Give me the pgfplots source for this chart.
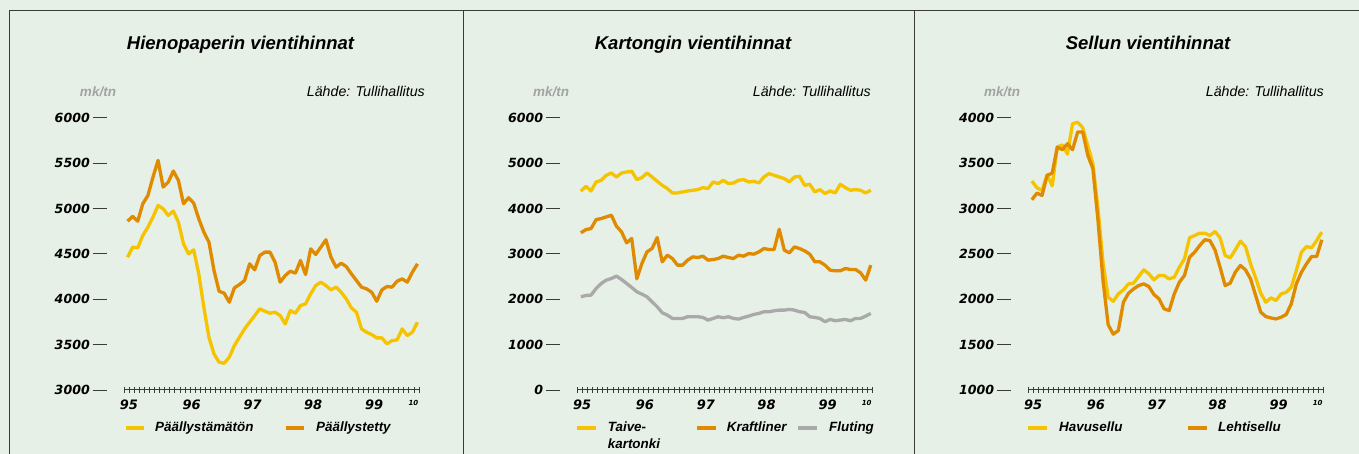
\documentclass[border=0pt]{standalone}
\usepackage{pgfplots}
\pgfplotsset{compat=1.18}
\usepackage{pgfplotstable}
\usepackage{fontspec}
\setmainfont{Liberation Sans}
\newfontfamily\djv{DejaVu Sans}[BoldFont={DejaVu Sans Bold},BoldItalicFont={DejaVu Sans Bold Oblique},ItalicFont={DejaVu Sans Oblique}]
\definecolor{bg}{HTML}{E6F0E6}
\definecolor{cyel}{HTML}{F5C300}
\definecolor{corg}{HTML}{E08A00}
\definecolor{cgry}{HTML}{A9A9A9}
\definecolor{frame}{HTML}{3A3A3A}
\definecolor{unit}{HTML}{A3A3A3}
\newcommand\ytf{\djv\bfseries\itshape\fontsize{12.6}{14}\selectfont}
\newcommand\xtf{\djv\bfseries\itshape\fontsize{13}{14}\selectfont}
\newcommand\yd{\hspace{3pt}\textcolor{frame}{\rule[\dimexpr0.36em-0.5pt\relax]{14pt}{1pt}}}
\newcommand\ttf{\bfseries\itshape\fontsize{18.5}{20}\selectfont}
\newcommand\ltf{\bfseries\itshape\fontsize{13.4}{16.7}\selectfont}
\newcommand\utf{\bfseries\itshape\fontsize{13.5}{15}\selectfont}
\newcommand\stf{\itshape\fontsize{14.2}{15}\selectfont}

\pgfplotstableread{
m a b
0 4463 4860
1 4574 4912
2 4566 4860
3 4702 5052
4 4794 5143
5 4905 5346
6 5033 5530
7 4996 5236
8 4923 5290
9 4971 5412
10 4849 5309
11 4610 5052
12 4500 5118
13 4544 5059
14 4280 4886
15 3912 4739
16 3581 4629
17 3397 4316
18 3306 4088
19 3295 4066
20 3361 3967
21 3489 4125
22 3581 4162
23 3673 4206
24 3747 4390
25 3820 4324
26 3894 4482
27 3868 4519
28 3846 4519
29 3857 4408
30 3820 4188
31 3728 4261
32 3875 4309
33 3846 4287
34 3930 4427
35 3949 4272
36 4059 4555
37 4151 4493
38 4188 4574
39 4151 4655
40 4103 4463
41 4133 4353
42 4077 4397
43 4004 4360
44 3905 4280
45 3857 4206
46 3673 4133
47 3636 4114
48 3611 4077
49 3574 3978
50 3574 4103
51 3508 4140
52 3544 4133
53 3552 4199
54 3673 4224
55 3600 4188
56 3636 4298
57 3747 4390
}\paper

\pgfplotstableread{
m t k f
0 4379 3462 2054
1 4489 3535 2083
2 4386 3557 2090
3 4584 3755 2237
4 4621 3778 2347
5 4731 3814 2421
6 4782 3851 2457
7 4694 3609 2509
8 4782 3484 2435
9 4804 3242 2347
10 4819 3338 2259
11 4636 2450 2164
12 4680 2787 2112
13 4782 3044 2054
14 4694 3117 1944
15 4599 3359 1834
16 4511 2824 1702
17 4438 2971 1650
18 4342 2897 1577
19 4342 2751 1577
20 4364 2751 1577
21 4386 2861 1614
22 4401 2934 1614
23 4416 2919 1614
24 4460 2949 1599
25 4438 2861 1540
26 4584 2875 1577
27 4548 2897 1614
28 4621 2949 1592
29 4548 2919 1614
30 4562 2897 1577
31 4621 2971 1562
32 4636 2949 1599
33 4584 3007 1628
34 4599 2993 1665
35 4562 3044 1687
36 4694 3117 1724
37 4768 3095 1724
38 4731 3095 1746
39 4694 3540 1760
40 4658 3081 1760
41 4584 3022 1775
42 4694 3154 1760
43 4709 3117 1724
44 4511 3066 1709
45 4533 2993 1614
46 4364 2824 1599
47 4416 2824 1577
48 4328 2751 1504
49 4386 2641 1555
50 4342 2626 1526
51 4533 2626 1540
52 4460 2677 1555
53 4401 2655 1526
54 4416 2655 1577
55 4401 2582 1577
56 4342 2421 1628
57 4401 2751 1687
}\board

\pgfplotstableread{
m h l
0 3302 3096
1 3228 3169
2 3199 3143
3 3370 3364
4 3250 3390
5 3677 3677
6 3700 3647
7 3600 3713
8 3934 3647
9 3950 3842
10 3890 3842
11 3690 3585
12 3493 3438
13 3000 2868
14 2400 2200
15 2022 1720
16 1977 1615
17 2059 1655
18 2103 1967
19 2169 2066
20 2177 2114
21 2250 2151
22 2324 2169
23 2280 2140
24 2213 2052
25 2261 2004
26 2261 1894
27 2224 1875
28 2243 2059
29 2353 2188
30 2445 2261
31 2677 2463
32 2702 2518
33 2728 2592
34 2728 2655
35 2702 2647
36 2747 2544
37 2677 2353
38 2482 2151
39 2456 2177
40 2544 2298
41 2640 2372
42 2581 2324
43 2390 2224
44 2236 2041
45 2066 1857
46 1967 1809
47 2015 1794
48 1986 1783
49 2059 1802
50 2077 1831
51 2133 1949
52 2316 2169
53 2518 2298
54 2581 2390
55 2566 2471
56 2647 2471
57 2739 2655
}\pulp

\pgfplotsset{panel/.style={
  scale only axis, width=295pt, height=272.3pt, anchor=south west,
  xmin=-0.7, xmax=57.3, clip=false,
  axis x line*=bottom, axis y line*=left,
  x axis line style={draw=frame, line width=1pt, -},
  y axis line style={draw=none},
  xtick={-0.7,0.3,...,57.4}, xticklabels={},
  tick align=center, major tick length=6pt,
  xtick style={draw=frame, line width=0.8pt},
  ytick style={draw=none},
  extra x ticks={0.25,12.6,24.6,36.5,48.5,56.2},
  extra x tick labels={95,96,97,98,99,{\fontsize{7}{8}\selectfont 10}},
  extra x tick style={major tick length=0pt, xtick style={draw=none}},
  xticklabel style={font=\xtf, anchor=north, inner sep=0pt, yshift=-10pt},
  yticklabel style={font=\ytf, anchor=east, inner sep=0pt, xshift=-14pt},
  every axis plot/.append style={line width=3.3pt, line join=round, no markers},
}}

\begin{document}
\begin{tikzpicture}[x=1pt,y=1pt]
\fill[bg] (0,0) rectangle (1359,454);
\path[use as bounding box] (0,0) rectangle (1359,454);
% frame
\draw[frame, line width=1pt] (9.3,443) -- (1359,443);
\draw[frame, line width=1pt] (9.3,443) -- (9.3,0);
\draw[frame, line width=1pt] (463,443) -- (463,0);
\draw[frame, line width=1pt] (914.7,443) -- (914.7,0);

% Panel 1
\begin{axis}[panel, at={(124pt,64pt)}, ymin=3000, ymax=6000,
  ytick={3000,3500,...,6000},
  yticklabels={{3000\yd},{3500\yd},{4000\yd},{4500\yd},{5000\yd},{5500\yd},{6000\yd}}]
\addplot[cyel] table[x=m,y=a] {\paper};
\addplot[corg] table[x=m,y=b] {\paper};
\end{axis}

% Panel 2
\begin{axis}[panel, at={(577.3pt,64pt)}, ymin=0, ymax=6000,
  ytick={0,1000,...,6000},
  yticklabels={{0\yd},{1000\yd},{2000\yd},{3000\yd},{4000\yd},{5000\yd},{6000\yd}}]
\addplot[cgry] table[x=m,y=f] {\board};
\addplot[cyel] table[x=m,y=t] {\board};
\addplot[corg] table[x=m,y=k] {\board};
\end{axis}

% Panel 3
\begin{axis}[panel, at={(1028.3pt,64pt)}, ymin=1000, ymax=4000,
  ytick={1000,1500,...,4000},
  yticklabels={{1000\yd},{1500\yd},{2000\yd},{2500\yd},{3000\yd},{3500\yd},{4000\yd}}]
\addplot[cyel] table[x=m,y=h] {\pulp};
\addplot[corg] table[x=m,y=l] {\pulp};
\end{axis}

% titles
\node[anchor=base, inner sep=0pt, font=\ttf] at (240.5,404) {Hienopaperin vientihinnat};
\node[anchor=base, inner sep=0pt, font=\ttf] at (693,404) {Kartongin vientihinnat};
\node[anchor=base, inner sep=0pt, font=\ttf] at (1148,404) {Sellun vientihinnat};
% units and source
\foreach \ux/\sx in {98/425, 551/871, 1002/1324}{
  \node[anchor=base, inner sep=0pt, font=\utf, text=unit] at (\ux,357.3) {mk/tn};
  \node[anchor=base east, inner sep=0pt, font=\stf] at (\sx,357.3) {Lähde: Tullihallitus};
}
% legends
\draw[cyel, line width=3.8pt] (125.7,25.7) -- (143.7,25.7);
\node[anchor=base west, inner sep=0pt, font=\ltf] at (155,22.3) {Päällystämätön};
\draw[corg, line width=3.8pt] (285.7,25.7) -- (304,25.7);
\node[anchor=base west, inner sep=0pt, font=\ltf] at (316,22.3) {Päällystetty};

\draw[cyel, line width=3.8pt] (577,25.7) -- (596,25.7);
\node[anchor=base west, inner sep=0pt, font=\ltf] at (607.7,22.3) {Taive-};
\node[anchor=base west, inner sep=0pt, font=\ltf] at (607.7,5.6) {kartonki};
\draw[corg, line width=3.8pt] (697,25.7) -- (716,25.7);
\node[anchor=base west, inner sep=0pt, font=\ltf] at (726.7,22.3) {Kraftliner};
\draw[cgry, line width=3.8pt] (798,25.7) -- (817,25.7);
\node[anchor=base west, inner sep=0pt, font=\ltf] at (829,22.3) {Fluting};

\draw[cyel, line width=3.8pt] (1028,25.7) -- (1047,25.7);
\node[anchor=base west, inner sep=0pt, font=\ltf] at (1059,22.3) {Havusellu};
\draw[corg, line width=3.8pt] (1188,25.7) -- (1207,25.7);
\node[anchor=base west, inner sep=0pt, font=\ltf] at (1218,22.3) {Lehtisellu};
\end{tikzpicture}
\end{document}
